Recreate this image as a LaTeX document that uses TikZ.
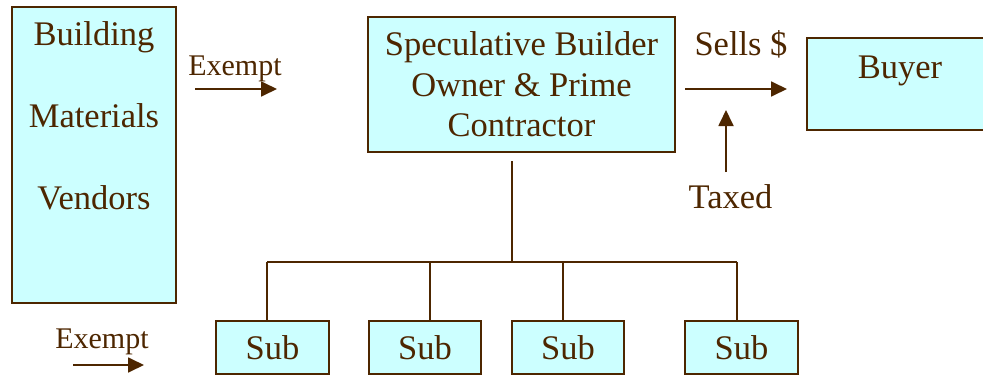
\documentclass[tikz,border=0pt]{standalone}
\usepackage{fontspec}
\setmainfont{Liberation Serif}
\usepackage{tikz}
\usetikzlibrary{arrows.meta}

\definecolor{ink}{RGB}{77,38,0}
\definecolor{boxfill}{RGB}{204,255,255}

\tikzset{
  box/.style={draw=ink, fill=boxfill, line width=2.4pt, inner sep=0pt, text=ink,
    font=\fontsize{34.5}{40.5}\selectfont, align=center},
  lbl/.style={anchor=base, inner sep=0pt, text=ink, font=\fontsize{34.5}{40.5}\selectfont},
  small/.style={lbl, font=\fontsize{30}{36}\selectfont},
  wire/.style={draw=ink, line width=2.2pt},
  arr/.style={draw=ink, line width=1.8pt, -{Triangle[length=16pt,width=15pt]}}
}

\begin{document}
\begin{tikzpicture}[x=1pt,y=1pt,yscale=-1,xscale=1]
\useasboundingbox (0,0) rectangle (983,375);
\clip (0,0) rectangle (983,375);

%Boxes
\node [box, minimum width=164, minimum height=296] (vendors) at (94,155) {};
\node [box, minimum width=307, minimum height=135] (builder) at (521.5,84.5) {Speculative Builder\\Owner \& Prime\\Contractor};
\node [box, minimum width=183, minimum height=92] (buyer) at (898.5,84) {};
\node [box, minimum width=113, minimum height=53] (sub1) at (272.5,347.5) {Sub};
\node [box, minimum width=112, minimum height=53] (sub2) at (425,347.5) {Sub};
\node [box, minimum width=112, minimum height=53] (sub3) at (568,347.5) {Sub};
\node [box, minimum width=113, minimum height=53] (sub4) at (741.5,347.5) {Sub};

% Text Node
\node [lbl] (building) at (94,45) {Building};
\node [lbl] (materials) at (94,127) {Materials};
\node [lbl] (vendorstxt) at (94,209) {Vendors};
\node [lbl] (buyertxt) at (900,78) {Buyer};
\node [lbl] (sells) at (741,55) {Sells \$};
\node [lbl] (taxed) at (730.5,208) {Taxed};
\node [small] (exemptA) at (235,75) {Exempt};
\node [small] (exemptB) at (102,348) {Exempt};

%Coordinates
\coordinate (stem) at (512,262);
\coordinate (busA) at (267,262);
\coordinate (busB) at (430,262);
\coordinate (busC) at (563,262);
\coordinate (busD) at (737,262);
\coordinate (exAs) at (195,89);
\coordinate (exAe) at (277,89);
\coordinate (exBs) at (73,365);
\coordinate (exBe) at (144,365);
\coordinate (sellS) at (685,89);
\coordinate (sellE) at (787,89);
\coordinate (taxS) at (726,172);
\coordinate (taxE) at (726,110);

%Straight Lines
\draw [wire] (stem |- builder.south) ++(0,8) -- (stem);
\draw [wire] (busA) -- (busD);
\draw [wire] (busA) -- (busA |- sub1.north);
\draw [wire] (busB) -- (busB |- sub2.north);
\draw [wire] (busC) -- (busC |- sub3.north);
\draw [wire] (busD) -- (busD |- sub4.north);

%Arrows
\draw [arr] (exAs) -- (exAe);
\draw [arr] (exBs) -- (exBe);
\draw [arr] (sellS) -- (sellE);
\draw [arr] (taxS) -- (taxE);

\end{tikzpicture}
\end{document}
